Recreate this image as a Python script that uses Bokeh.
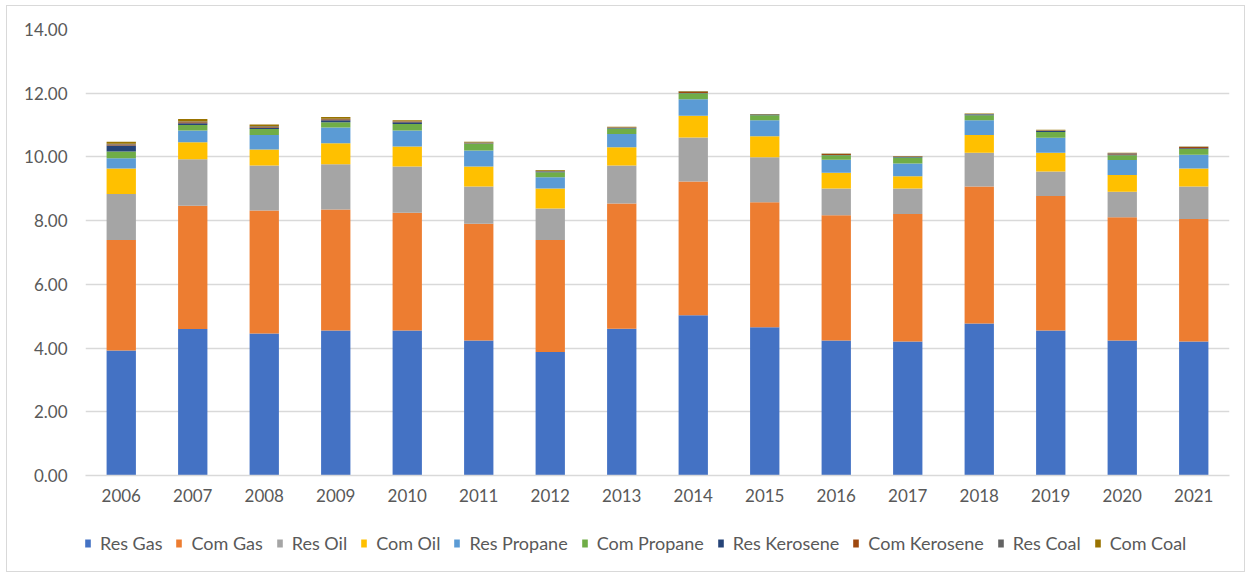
from bokeh.plotting import figure
from bokeh.layouts import column
from bokeh.models import FixedTicker, NumeralTickFormatter, Legend, LegendItem, ColumnDataSource, FactorRange
from bokeh.embed import file_html
from bokeh.resources import INLINE

years = ["2006", "2007", "2008", "2009", "2010", "2011", "2012", "2013",
         "2014", "2015", "2016", "2017", "2018", "2019", "2020", "2021"]

res_gas      = [3.92, 4.60, 4.46, 4.55, 4.55, 4.24, 3.88, 4.61, 5.03, 4.65, 4.24, 4.21, 4.77, 4.55, 4.24, 4.21]
com_gas      = [3.47, 3.87, 3.86, 3.80, 3.70, 3.66, 3.51, 3.93, 4.20, 3.93, 3.93, 4.00, 4.30, 4.22, 3.87, 3.84]
res_oil      = [1.45, 1.46, 1.41, 1.42, 1.45, 1.17, 0.99, 1.19, 1.38, 1.41, 0.84, 0.80, 1.06, 0.77, 0.80, 1.02]
com_oil      = [0.80, 0.53, 0.50, 0.66, 0.63, 0.63, 0.63, 0.57, 0.68, 0.66, 0.49, 0.38, 0.56, 0.59, 0.52, 0.57]
res_propane  = [0.32, 0.37, 0.46, 0.49, 0.50, 0.50, 0.35, 0.42, 0.52, 0.50, 0.41, 0.40, 0.46, 0.47, 0.47, 0.43]
com_propane  = [0.21, 0.17, 0.19, 0.17, 0.20, 0.21, 0.16, 0.17, 0.19, 0.16, 0.14, 0.19, 0.16, 0.18, 0.15, 0.18]
res_kerosene = [0.19, 0.06, 0.03, 0.06, 0.06, 0.01, 0.02, 0.02, 0.01, 0.01, 0.01, 0.02, 0.02, 0.03, 0.03, 0.02]
com_kerosene = [0.03, 0.03, 0.02, 0.03, 0.02, 0.01, 0.01, 0.01, 0.03, 0.00, 0.03, 0.01, 0.00, 0.02, 0.03, 0.04]
res_coal     = [0.02, 0.02, 0.03, 0.02, 0.01, 0.02, 0.02, 0.01, 0.01, 0.02, 0.01, 0.01, 0.02, 0.01, 0.01, 0.01]
com_coal     = [0.07, 0.08, 0.06, 0.05, 0.03, 0.03, 0.02, 0.02, 0.02, 0.01, 0.01, 0.01, 0.01, 0.01, 0.01, 0.01]

series_names = ["Res Gas", "Com Gas", "Res Oil", "Com Oil", "Res Propane", "Com Propane",
                "Res Kerosene", "Com Kerosene", "Res Coal", "Com Coal"]
series_vals = [res_gas, com_gas, res_oil, com_oil, res_propane, com_propane,
               res_kerosene, com_kerosene, res_coal, com_coal]
colors = ["#4472C4", "#ED7D31", "#A5A5A5", "#FFC000", "#5B9BD5", "#70AD47",
          "#264478", "#9E480E", "#636363", "#997300"]
y_ticks = [0, 2, 4, 6, 8, 10, 12, 14]

data = {"year": years}
keys = []
for i, v in enumerate(series_vals):
    k = "s%d" % i
    data[k] = v
    keys.append(k)
src = ColumnDataSource(data)

FONT = "Lato"
TXT = "#595959"

# main chart
p = figure(x_range=FactorRange(*years), y_range=(0, 14), width=1237, height=514,
           output_backend="svg", toolbar_location=None,
           min_border_left=78, min_border_right=15, min_border_top=23, min_border_bottom=45)

p.vbar_stack(keys, x="year", width=0.41, source=src, color=colors, line_color=None)

p.outline_line_color = None
p.xgrid.grid_line_color = None
p.ygrid.grid_line_color = "#D9D9D9"
p.ygrid.grid_line_width = 1.3
p.yaxis.ticker = FixedTicker(ticks=y_ticks)
p.yaxis.formatter = NumeralTickFormatter(format="0.00")
p.yaxis.axis_line_color = None
p.yaxis.major_label_standoff = 18
p.xaxis.axis_line_color = "#D9D9D9"
p.xaxis.axis_line_width = 1.3
p.xaxis.major_label_standoff = 13
for ax in (p.xaxis, p.yaxis):
    ax.major_tick_line_color = None
    ax.minor_tick_line_color = None
    ax.major_tick_out = 0
    ax.major_tick_in = 0
    ax.minor_tick_out = 0
    ax.major_label_text_font = FONT
    ax.major_label_text_font_size = "17px"
    ax.major_label_text_color = TXT

# legend strip (hidden copies of the stacked bars supply the legend swatches)
pl = figure(width=1237, height=51, x_range=FactorRange(*years), y_range=(0, 14),
            output_backend="svg", toolbar_location=None, min_border=0)
pl.axis.visible = False
pl.grid.visible = False
pl.outline_line_color = None
hidden = pl.vbar_stack(keys, x="year", width=0.41, source=src, color=colors, line_color=None)
items = []
for n, r in zip(series_names, hidden):
    r.visible = False
    items.append(LegendItem(label=n, renderers=[r]))
legend = Legend(items=items, orientation="horizontal", location=(-1, 17),
                label_text_font=FONT, label_text_font_size="18px", label_text_color=TXT,
                glyph_width=7, glyph_height=10, label_standoff=9, spacing=13,
                border_line_color=None, background_fill_alpha=0, padding=0, margin=0)
pl.add_layout(legend, "center")

layout = column(p, pl, spacing=0,
                styles={"border": "1px solid #D9D9D9", "margin": "5px 0 0 6px"})
open("out.html", "w").write(file_html(layout, INLINE))
